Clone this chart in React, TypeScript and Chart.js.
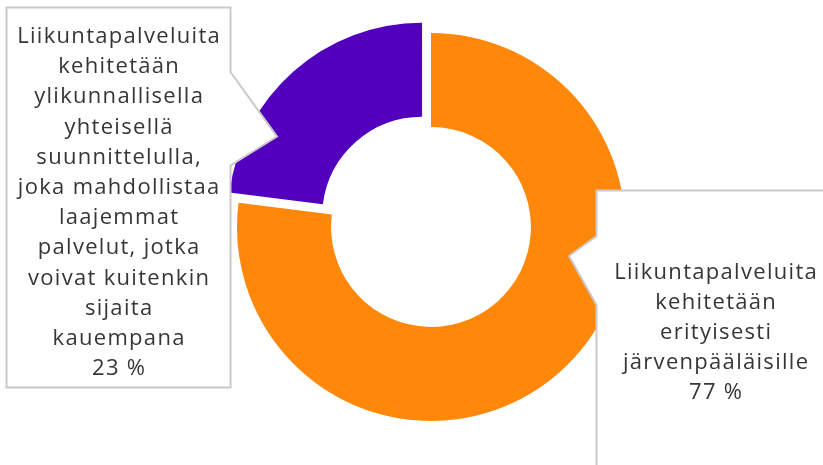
import React, { useEffect, useRef } from 'react';
import { Chart, registerables } from 'chart.js';
Chart.register(...registerables);

// ---- data ----
const categories: string[][] = [
  ['Liikuntapalveluita', 'kehitetään', 'erityisesti', 'järvenpääläisille'],
  [
    'Liikuntapalveluita',
    'kehitetään',
    'ylikunnallisella',
    'yhteisellä',
    'suunnittelulla,',
    'joka mahdollistaa',
    'laajemmat',
    'palvelut, jotka',
    'voivat kuitenkin',
    'sijaita',
    'kauempana',
  ],
];
const values: number[] = [77, 23];
const colors: string[] = ['#FF880A', '#5200BE'];
const sliceOffsets: number[] = [0, 54];

// ---- callout layout (page pixels) ----
type Callout = {
  left: number;
  top: number;
  right: number;
  bottom: number;
  ptrTop: number;
  ptrBottom: number;
  tipX: number;
  tipY: number;
  side: 'left' | 'right';
  textX: number;
  firstBaseline: number;
  lineHeight: number;
};
const callouts: Callout[] = [
  {
    left: 596.5, top: 190.5, right: 840, bottom: 490,
    ptrTop: 236, ptrBottom: 305, tipX: 569, tipY: 256, side: 'left',
    textX: 715.5, firstBaseline: 279, lineHeight: 30,
  },
  {
    left: 6.5, top: 7.5, right: 230.5, bottom: 387.5,
    ptrTop: 72, ptrBottom: 165.5, tipX: 277, tipY: 136.5, side: 'right',
    textX: 118.5, firstBaseline: 43, lineHeight: 30.2,
  },
];

const calloutPlugin = {
  id: 'callouts',
  afterDatasetsDraw(chart: any) {
    const ctx: any = chart.ctx;
    const total = values.reduce((a, b) => a + b, 0);
    ctx.save();
    callouts.forEach((c, i) => {
      ctx.beginPath();
      ctx.moveTo(c.left, c.top);
      ctx.lineTo(c.right, c.top);
      if (c.side === 'right') {
        ctx.lineTo(c.right, c.ptrTop);
        ctx.lineTo(c.tipX, c.tipY);
        ctx.lineTo(c.right, c.ptrBottom);
        ctx.lineTo(c.right, c.bottom);
        ctx.lineTo(c.left, c.bottom);
        ctx.closePath();
      } else {
        ctx.lineTo(c.right, c.bottom);
        ctx.lineTo(c.left, c.bottom);
        ctx.lineTo(c.left, c.ptrBottom);
        ctx.lineTo(c.tipX, c.tipY);
        ctx.lineTo(c.left, c.ptrTop);
        ctx.closePath();
      }
      ctx.fillStyle = '#FFFFFF';
      ctx.fill();
      ctx.lineWidth = 2;
      ctx.strokeStyle = '#C9C9C9';
      ctx.lineJoin = 'miter';
      ctx.stroke();

      ctx.fillStyle = '#363636';
      ctx.font = '22px "Open Sans", sans-serif';
      ctx.letterSpacing = '1.3px';
      ctx.textAlign = 'center';
      ctx.textBaseline = 'alphabetic';
      const lines = [...categories[i], `${Math.round((values[i] / total) * 100)} %`];
      lines.forEach((ln, k) => {
        ctx.fillText(ln, c.textX + 0.65, c.firstBaseline + k * c.lineHeight);
      });
    });
    ctx.restore();
  },
};

export default function App() {
  const ref = useRef<HTMLCanvasElement | null>(null);
  useEffect(() => {
    if (!ref.current) return;
    const chart = new Chart(ref.current, {
      type: 'doughnut',
      data: {
        labels: categories.map((c) => c.join(' ')),
        datasets: [
          {
            data: values,
            backgroundColor: colors,
            borderWidth: 0,
            offset: sliceOffsets,
          },
        ],
      },
      options: {
        animation: false,
        responsive: false,
        radius: 194,
        cutout: '51.5%',
        layout: { padding: { left: 39, right: 0, top: 0, bottom: 11 } },
        plugins: { legend: { display: false }, tooltip: { enabled: false } },
      },
      plugins: [calloutPlugin],
    });
    return () => chart.destroy();
  }, []);
  return (
    <div style={{ position: 'fixed', left: 0, top: 0, width: 823, height: 465, background: '#fff' }}>
      <canvas ref={ref} width={823} height={465} style={{ display: 'block' }} />
    </div>
  );
}
